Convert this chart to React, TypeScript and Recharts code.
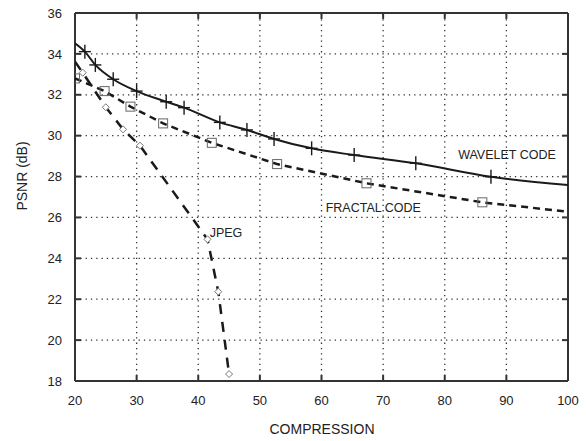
import React from "react";
import {
  LineChart,
  Line,
  XAxis,
  YAxis,
  ReferenceLine,
  ReferenceDot,
} from "recharts";

// values
const xTicks = [20, 30, 40, 50, 60, 70, 80, 90, 100];
const yTicks = [18, 20, 22, 24, 26, 28, 30, 32, 34, 36];

const waveletX = [20, 21.6, 23.3, 26.2, 30.0, 34.8, 37.7, 43.5, 47.9, 52.3, 58.4, 65.3, 75.3, 87.5, 100];
const waveletY = [34.52, 34.11, 33.46, 32.76, 32.18, 31.66, 31.37, 30.65, 30.28, 29.84, 29.38, 29.05, 28.65, 27.99, 27.59];

const fractalX = [20, 24.8, 29.0, 34.3, 42.2, 52.8, 67.3, 86.1, 100];
const fractalY = [32.8, 32.18, 31.42, 30.6, 29.65, 28.61, 27.67, 26.74, 26.28];

const jpegX = [20, 21.25, 25.0, 27.8, 30.55, 41.5, 43.25, 45.0];
const jpegY = [33.62, 33.08, 31.39, 30.31, 29.51, 24.93, 22.37, 18.34];

const labels = [
  { text: "WAVELET CODE", x: 90.1, y: 29.1 },
  { text: "FRACTAL CODE", x: 68.4, y: 26.48 },
  { text: "JPEG", x: 44.5, y: 25.24 },
];

const toPoints = (xs: number[], ys: number[]) => xs.map((x, i) => ({ x, y: ys[i] }));

const wavelet = toPoints(waveletX, waveletY);
const fractal = toPoints(fractalX, fractalY);
const jpeg = toPoints(jpegX, jpegY);

const X_MIN = 20;
const X_MAX = 100;
const Y_MIN = 18;
const Y_MAX = 36;
// inward tick length (~6px) expressed in axis units
const TICK_X = 0.97;
const TICK_Y = 0.29;

const INK = "#1a1a1a";
const FRAME = "#333";
const SOLID = "800 1";
const FONT = '"Liberation Sans", Arial, Helvetica, sans-serif';

function bottomTick(props: any) {
  const { x, y, payload } = props;
  return (
    <text x={x} y={y} dy="0.71em" textAnchor="middle" fontSize={13} fill="#222" fontFamily={FONT}>
      {payload.value}
    </text>
  );
}

function leftTick(props: any) {
  const { x, y, payload } = props;
  return (
    <text x={x} y={y} dy="0.355em" textAnchor="end" fontSize={13} fill="#222" fontFamily={FONT}>
      {payload.value}
    </text>
  );
}

function crossDot(props: any) {
  const { cx, cy, index } = props;
  if (index === 0 || index === waveletX.length - 1) return <g key={`w${index}`} />;
  return (
    <g key={`w${index}`} stroke={INK} strokeWidth={1.4}>
      <line x1={cx} y1={cy - 7} x2={cx} y2={cy + 7} />
      <line x1={cx - 6} y1={cy} x2={cx + 6} y2={cy} />
    </g>
  );
}

function squareDot(props: any) {
  const { cx, cy, index } = props;
  if (index === fractalX.length - 1) return <g key={`f${index}`} />;
  return (
    <rect
      key={`f${index}`}
      x={cx - 4.5}
      y={cy - 4.5}
      width={9}
      height={9}
      fill="none"
      stroke="#666"
      strokeWidth={1}
    />
  );
}

function diamondDot(props: any) {
  const { cx, cy, index } = props;
  if (index === 0) return <g key={`j${index}`} />;
  return (
    <path
      key={`j${index}`}
      d={`M${cx},${cy - 3.5} L${cx + 3.5},${cy} L${cx},${cy + 3.5} L${cx - 3.5},${cy} Z`}
      fill="#fff"
      stroke="#777"
      strokeWidth={1}
    />
  );
}

export default function App() {
  return (
    <div style={{ position: "absolute", left: 0, top: 0 }}>
      <LineChart
        width={586}
        height={441}
        margin={{ top: 13, right: 18, bottom: 0, left: 0 }}
        style={{ fontFamily: FONT }}
      >
        {/* dotted grid */}
        {xTicks.slice(1, -1).map((t) => (
          <ReferenceLine key={`gx${t}`} x={t} ifOverflow="visible" stroke="#333" strokeWidth={1.3} strokeDasharray="1.3 4" />
        ))}
        {yTicks.slice(1, -1).map((t) => (
          <ReferenceLine key={`gy${t}`} y={t} ifOverflow="visible" stroke="#333" strokeWidth={1.3} strokeDasharray="1.3 4" />
        ))}
        {/* inward tick marks on all four sides */}
        {xTicks.map((t) => (
          <ReferenceLine key={`tb${t}`} ifOverflow="visible" stroke={FRAME} strokeWidth={2} strokeDasharray={SOLID}
            segment={[{ x: t, y: Y_MIN }, { x: t, y: Y_MIN + TICK_Y }]} />
        ))}
        {xTicks.map((t) => (
          <ReferenceLine key={`tt${t}`} ifOverflow="visible" stroke={FRAME} strokeWidth={2} strokeDasharray={SOLID}
            segment={[{ x: t, y: Y_MAX }, { x: t, y: Y_MAX - TICK_Y }]} />
        ))}
        {yTicks.map((t) => (
          <ReferenceLine key={`tl${t}`} ifOverflow="visible" stroke={FRAME} strokeWidth={2} strokeDasharray={SOLID}
            segment={[{ x: X_MIN, y: t }, { x: X_MIN + TICK_X, y: t }]} />
        ))}
        {yTicks.map((t) => (
          <ReferenceLine key={`tr${t}`} ifOverflow="visible" stroke={FRAME} strokeWidth={2} strokeDasharray={SOLID}
            segment={[{ x: X_MAX, y: t }, { x: X_MAX - TICK_X, y: t }]} />
        ))}
        {/* plot frame */}
        {[X_MIN, X_MAX].map((v) => (
          <ReferenceLine key={`fx${v}`} x={v} ifOverflow="visible" stroke={FRAME} strokeWidth={2} strokeDasharray={SOLID} />
        ))}
        {[Y_MIN, Y_MAX].map((v) => (
          <ReferenceLine key={`fy${v}`} y={v} ifOverflow="visible" stroke={FRAME} strokeWidth={2} strokeDasharray={SOLID} />
        ))}
        <XAxis
          dataKey="x"
          type="number"
          domain={[X_MIN, X_MAX]}
          ticks={xTicks}
          allowDataOverflow
          height={60}
          axisLine={false}
          tickLine={false}
          tickSize={0}
          tickMargin={15}
          tick={bottomTick}
          label={{
            content: () => (
              <text x={322} y={429} textAnchor="middle" dominantBaseline="central" fontSize={14} fill="#222" fontFamily={FONT}>
                COMPRESSION
              </text>
            ),
          }}
        />
        <YAxis
          type="number"
          domain={[Y_MIN, Y_MAX]}
          ticks={yTicks}
          allowDataOverflow
          width={75}
          axisLine={false}
          tickLine={false}
          tickSize={0}
          tickMargin={13}
          tick={leftTick}
          label={{
            content: () => (
              <text
                x={22}
                y={176}
                transform="rotate(-90 22 176)"
                textAnchor="middle"
                dominantBaseline="central"
                fontSize={14}
                fill="#222"
                fontFamily={FONT}
              >
                PSNR (dB)
              </text>
            ),
          }}
        />
        <Line
          data={jpeg}
          dataKey="y"
          type="linear"
          stroke={INK}
          strokeWidth={2.5}
          strokeDasharray="10 8"
          dot={diamondDot}
          activeDot={false}
          isAnimationActive={false}
        />
        <Line
          data={fractal}
          dataKey="y"
          type="linear"
          stroke={INK}
          strokeWidth={2.5}
          strokeDasharray="7 5"
          dot={squareDot}
          activeDot={false}
          isAnimationActive={false}
        />
        <Line
          data={wavelet}
          dataKey="y"
          type="monotone"
          stroke={INK}
          strokeWidth={2}
          dot={crossDot}
          activeDot={false}
          isAnimationActive={false}
        />
        {labels.map((l) => (
          <ReferenceDot
            key={l.text}
            x={l.x}
            y={l.y}
            r={0}
            fill="none"
            stroke="none"
            label={{ value: l.text, position: "center", fill: "#222", fontSize: 12.5 }}
          />
        ))}
      </LineChart>
    </div>
  );
}
